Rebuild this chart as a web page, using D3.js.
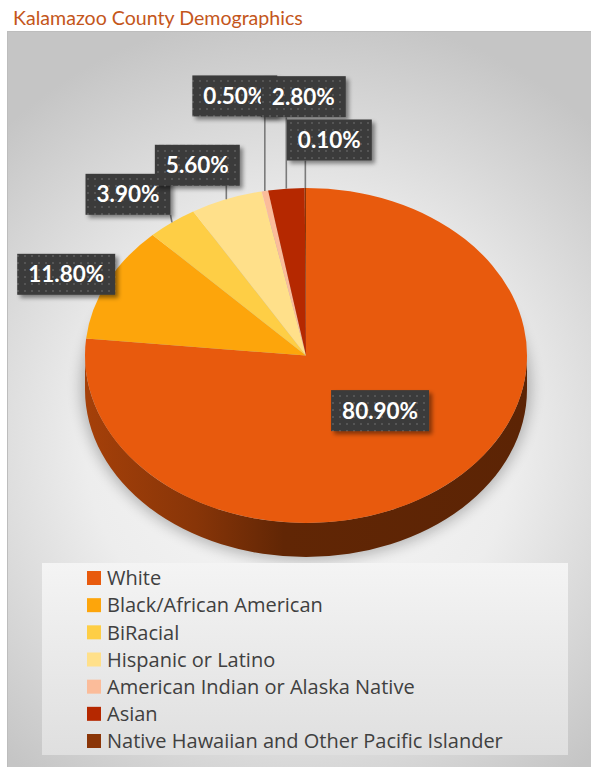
<!DOCTYPE html>
<html>
<head>
<meta charset="utf-8">
<script src="https://cdn.jsdelivr.net/npm/d3@7"></script>
<style>
  html, body { margin: 0; padding: 0; background: #ffffff; }
  svg { display: block; font-family: Lato, "Open Sans", sans-serif; }
</style>
</head>
<body>
<svg id="chart" width="591" height="767"></svg>
<script>
// Kalamazoo County population share by race / ethnicity (percent)
const categories = [
  "White",
  "Black/African American",
  "BiRacial",
  "Hispanic or Latino",
  "American Indian or Alaska Native",
  "Asian",
  "Native Hawaiian and Other Pacific Islander"
];
const values = [80.9, 11.8, 3.9, 5.6, 0.5, 2.8, 0.1];
const sliceColors = ["#E85A0D", "#FDA50B", "#FECE45", "#FFE08A", "#FBBC9A", "#B52800", "#8A3507"];

// Label placement: nudge (px) from each slice's anchor point
const labelNudge = [[0, -7], [-41, -8], [-44, -28], [-29, -34], [-30, -95], [17, -92], [24, -48]];

const W = 591, H = 767;
const svg = d3.select("#chart");
const defs = svg.append("defs");

// ---------- background panel ----------
const bg = defs.append("radialGradient").attr("id", "panelBg")
  .attr("gradientUnits", "userSpaceOnUse")
  .attr("cx", 300).attr("cy", 440).attr("r", 430);
bg.append("stop").attr("offset", 0).attr("stop-color", "#f8f8f8");
bg.append("stop").attr("offset", 0.5).attr("stop-color", "#ededed");
bg.append("stop").attr("offset", 1).attr("stop-color", "#c5c5c5");

svg.append("rect")
  .attr("x", 7.5).attr("y", 31.5).attr("width", W).attr("height", H)
  .attr("fill", "url(#panelBg)")
  .attr("stroke", "#bdbdbd").attr("stroke-width", 1);

// Title
svg.append("text")
  .attr("x", 13).attr("y", 25)
  .attr("font-size", 19.6)
  .attr("fill", "#C4561B")
  .text("Kalamazoo County Demographics");

// ---------- 3D pie ----------
const cx = 306, cy = 355.5, rx = 221, ry = 167.5, depth = 34;
const pt = (a, r = 1) => [cx + rx * r * Math.sin(a), cy - ry * r * Math.cos(a)];

const arcs = d3.pie().sort(null).value(d => d)(values);
const arcGen = d3.arc().innerRadius(0).outerRadius(rx);

// soft shadow under the pie
const blur = defs.append("filter").attr("id", "pieShadow")
  .attr("x", "-20%").attr("y", "-20%").attr("width", "140%").attr("height", "140%");
blur.append("feGaussianBlur").attr("stdDeviation", 7);
svg.append("ellipse")
  .attr("cx", cx).attr("cy", cy + depth - 2)
  .attr("rx", rx + 4).attr("ry", ry + 6)
  .attr("fill", "#000").attr("opacity", 0.25)
  .attr("filter", "url(#pieShadow)");

// side walls (front half of the rim only)
const sideG = svg.append("g");
arcs.forEach((a, i) => {
  const s = Math.max(a.startAngle, Math.PI / 2);
  const e = Math.min(a.endAngle, Math.PI * 1.5);
  if (s >= e) return;
  const base = d3.color(sliceColors[i]);
  const gid = "side" + i;
  const g = defs.append("linearGradient").attr("id", gid)
    .attr("gradientUnits", "userSpaceOnUse")
    .attr("x1", cx - rx).attr("x2", cx + rx).attr("y1", 0).attr("y2", 0);
  g.append("stop").attr("offset", 0).attr("stop-color", base.darker(0.95));
  g.append("stop").attr("offset", 0.25).attr("stop-color", base.darker(1.5));
  g.append("stop").attr("offset", 0.45).attr("stop-color", base.darker(2.45));
  g.append("stop").attr("offset", 1).attr("stop-color", base.darker(2.6));
  const p0 = pt(s), p1 = pt(e);
  const path = `M${p0[0]},${p0[1]} A${rx},${ry} 0 0 1 ${p1[0]},${p1[1]}` +
    ` L${p1[0]},${p1[1] + depth} A${rx},${ry} 0 0 0 ${p0[0]},${p0[1] + depth} Z`;
  sideG.append("path").attr("d", path).attr("fill", `url(#${gid})`);
});

// top faces, drawn by d3.arc and squashed into an ellipse
svg.append("g")
  .attr("transform", `translate(${cx},${cy}) scale(1,${ry / rx})`)
  .selectAll("path")
  .data(arcs)
  .join("path")
  .attr("d", arcGen)
  .attr("fill", (d, i) => sliceColors[i]);

// ---------- data labels ----------
const dots = defs.append("pattern").attr("id", "dots")
  .attr("patternUnits", "userSpaceOnUse").attr("width", 7).attr("height", 7);
dots.append("rect").attr("width", 7).attr("height", 7).attr("fill", "#3a3a3a");
dots.append("rect").attr("x", 3).attr("y", 3).attr("width", 2).attr("height", 2).attr("fill", "#545454");

const boxShadow = defs.append("filter").attr("id", "boxShadow")
  .attr("x", "-20%").attr("y", "-20%").attr("width", "150%").attr("height", "160%");
boxShadow.append("feDropShadow").attr("dx", 3).attr("dy", 3)
  .attr("stdDeviation", 2.2).attr("flood-color", "#000").attr("flood-opacity", 0.45);

const fmt = v => d3.format(".2f")(v) + "%";
const lineG = svg.append("g");
const labelG = svg.append("g");
const boxH = 41, padX = 11;

arcs.forEach((a, i) => {
  const mid = (a.startAngle + a.endAngle) / 2;
  const inside = i === 0;
  const anchor = pt(mid, inside ? 0.5 : 1);
  const c = [anchor[0] + labelNudge[i][0], anchor[1] + labelNudge[i][1]];

  const g = labelG.append("g");
  const rect = g.append("rect").attr("fill", "url(#dots)").attr("filter", "url(#boxShadow)");
  const t = g.append("text")
    .attr("x", c[0]).attr("y", c[1])
    .attr("text-anchor", "middle").attr("dy", "0.36em")
    .attr("font-size", 22.5).attr("font-weight", 700)
    .attr("fill", "#ffffff")
    .text(fmt(values[i]));
  const bw = t.node().getComputedTextLength() + padX * 2;
  const bx = c[0] - bw / 2, by = c[1] - boxH / 2;
  rect.attr("x", bx).attr("y", by).attr("width", bw).attr("height", boxH);

  if (!inside) {
    // leader from the slice edge to the nearest point of the box
    const nx = Math.max(bx, Math.min(anchor[0], bx + bw));
    const ny = Math.max(by, Math.min(anchor[1], by + boxH));
    if (Math.hypot(nx - anchor[0], ny - anchor[1]) > 4) {
      lineG.append("line")
        .attr("x1", anchor[0]).attr("y1", anchor[1])
        .attr("x2", nx).attr("y2", ny)
        .attr("stroke", "#7a7a7a").attr("stroke-width", 1.6);
    }
  }
});

// ---------- legend ----------
const lg = defs.append("linearGradient").attr("id", "legendBg")
  .attr("x1", 0).attr("x2", 0).attr("y1", 0).attr("y2", 1);
lg.append("stop").attr("offset", 0).attr("stop-color", "#f4f4f4");
lg.append("stop").attr("offset", 1).attr("stop-color", "#dfdfdf");

svg.append("rect")
  .attr("x", 42).attr("y", 563).attr("width", 526).attr("height", 192)
  .attr("fill", "url(#legendBg)");

const rowY = d3.scalePoint().domain(categories).range([578, 741]);
const legend = svg.append("g").selectAll("g")
  .data(categories)
  .join("g")
  .attr("transform", d => `translate(87,${rowY(d)})`);
legend.append("rect")
  .attr("x", 0).attr("y", -7).attr("width", 14).attr("height", 14)
  .attr("fill", (d, i) => sliceColors[i]);
legend.append("text")
  .attr("x", 20).attr("dy", "0.36em")
  .attr("font-family", "'Open Sans', Lato, sans-serif")
  .attr("font-size", 20)
  .attr("fill", "#404040")
  .text(d => d);
</script>
</body>
</html>
